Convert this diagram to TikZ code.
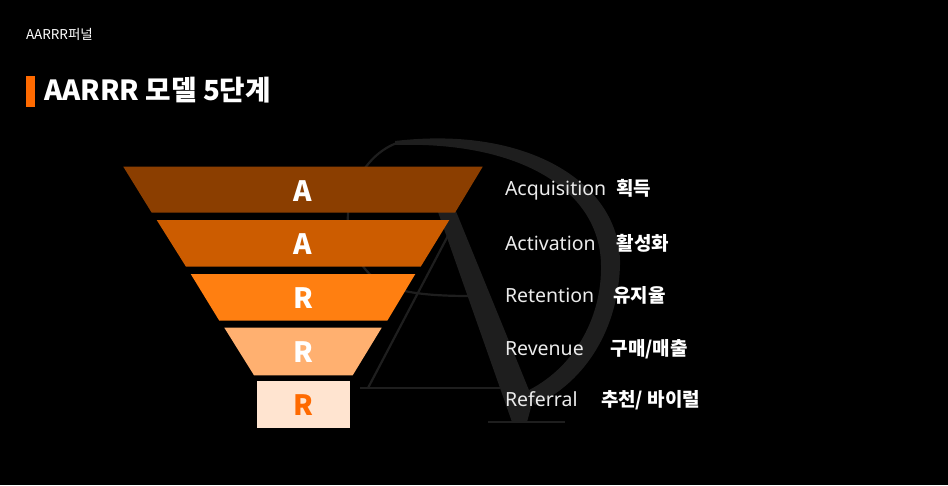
\documentclass[tikz,border=0pt]{standalone}
\usepackage{fontspec}
\setmainfont{Noto Sans CJK KR}
\newfontfamily\latinfont{Noto Sans}
\begin{document}
\begin{tikzpicture}[x=1pt,y=-1pt,
  every node/.style={inner sep=0pt,outer sep=0pt},
  funnelletter/.style={anchor=base,text=white,font=\fontsize{28}{30}\selectfont\bfseries},
  enlabel/.style={anchor=base west,text=white!92!black,font=\latinfont\fontsize{19.5}{22}\selectfont},
  kolabel/.style={anchor=base west,text=white,font=\fontsize{19}{21}\selectfont\bfseries},
  wm/.style={draw=wmgray,line width=2.2pt},
]
\definecolor{wmgray}{HTML}{1E1E1E}
\definecolor{fA}{HTML}{8B3E00}
\definecolor{fB}{HTML}{CC5C00}
\definecolor{fC}{HTML}{FF7F11}
\definecolor{fD}{HTML}{FFB070}
\definecolor{fE}{HTML}{FFE4D0}
\definecolor{accent}{HTML}{FF6A00}
\fill[black] (0,0) rectangle (948,485);
\useasboundingbox (0,0) rectangle (948,485);

% watermark monogram
\fill[wmgray] (395,141) .. controls (530,125) and (622,185) .. (620,265)
  .. controls (618,335) and (580,385) .. (535,405)
  -- (525,392) .. controls (572,370) and (602,320) .. (601,265)
  .. controls (600,190) and (520,141) .. (395,145) -- cycle;
\draw[wm] (397,143) .. controls (355,158) and (332,222) .. (360,262) .. controls (375,285) and (395,296) .. (470,296);
\fill[wmgray] (438,212) -- (453,204) -- (533,400) -- (527,422) -- (512,422) -- cycle;
\draw[wm] (488,422) -- (565,422);
\draw[wm] (452,228) -- (368,388);
\draw[wm] (360,388) -- (500,388);

% header
\node[anchor=base west,text=white,font=\fontsize{13.5}{15}\selectfont] (hdr) at (26,39) {AARRR퍼널};
\fill[accent] (26,76) rectangle (35,107);
\node[anchor=base west,text=white,font=\fontsize{27.7}{30}\selectfont\bfseries] (title) at (44,100) {AARRR 모델 5단계};

% funnel
\fill[fA] (123.3,166.7) -- (482.7,166.7) -- (455,212.7) -- (151.7,212.7) -- cycle;
\fill[fB] (156.7,220) -- (449.3,220) -- (420.7,266.7) -- (186,266.7) -- cycle;
\fill[fC] (190.7,274) -- (415.3,274) -- (387.3,320.7) -- (219.3,320.7) -- cycle;
\fill[fD] (224.3,327.7) -- (381.7,327.7) -- (352.7,375.3) -- (254,375.3) -- cycle;
\fill[fE] (256.7,381.3) rectangle (350,427.7);
\node[funnelletter] (l1) at (303,201.7) {A};
\node[funnelletter] (l2) at (303,254.3) {A};
\node[funnelletter] (l3) at (303,308.3) {R};
\node[funnelletter] (l4) at (303,362.3) {R};
\node[funnelletter,text=accent] (l5) at (303,415.7) {R};

% labels
\node[enlabel] (e1) at (505,195) {Acquisition};
\node[enlabel] (e2) at (505,250.7) {Activation};
\node[enlabel] (e3) at (505,302.7) {Retention};
\node[enlabel] (e4) at (505,355) {Revenue};
\node[enlabel] (e5) at (505,406) {Referral};
\node[kolabel] (k1) at (616,195) {획득};
\node[kolabel] (k2) at (616.7,250.7) {활성화};
\node[kolabel] (k3) at (613.3,302.7) {유지율};
\node[kolabel] (k4) at (610.7,355) {구매/매출};
\node[kolabel] (k5) at (601,406) {추천/ 바이럴};
\end{tikzpicture}
\end{document}
